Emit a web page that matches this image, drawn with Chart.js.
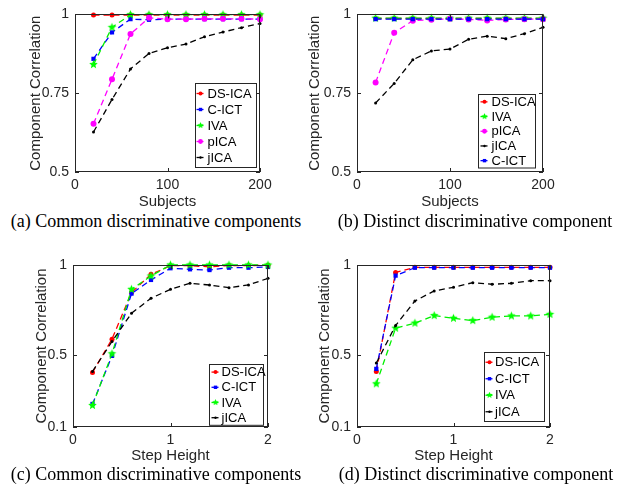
<!DOCTYPE html>
<html>
<head>
<meta charset="utf-8">
<script src="https://cdn.jsdelivr.net/npm/chart.js@4.4.1/dist/chart.umd.min.js"></script>
<style>
  body { margin: 0; background: #fff; width: 624px; height: 491px; position: relative; overflow: hidden; }
  canvas { position: absolute; }
  .cap { position: absolute; font-family: "Liberation Serif", "Times New Roman", serif; font-size: 18px; line-height: 18px;
         white-space: nowrap; transform: translateX(-50%); color: #000; }
</style>
</head>
<body>
<canvas id="chartA" width="312" height="211" style="left:0;top:0"></canvas>
<canvas id="chartB" width="324" height="211" style="left:300px;top:0"></canvas>
<canvas id="chartC" width="312" height="220" style="left:0;top:245px"></canvas>
<canvas id="chartD" width="324" height="220" style="left:300px;top:245px"></canvas>
<div class="cap" style="left:156px;top:212px">(a) Common discriminative components</div>
<div class="cap" style="left:475px;top:212px">(b) Distinct discriminative component</div>
<div class="cap" style="left:156px;top:465px">(c) Common discriminative components</div>
<div class="cap" style="left:476px;top:465px">(d) Distinct discriminative component</div>
<script>
// x values and axis ticks
const subjects = [20, 40, 60, 80, 100, 120, 140, 160, 180, 200];
const stepHeights = [0.2, 0.4, 0.6, 0.8, 1.0, 1.2, 1.4, 1.6, 1.8, 2.0];
const subjectTicks = [0, 100, 200];
const stepTicks = [0, 1, 2];
const corrTicksTop = [0.5, 0.75, 1];
const corrTicksBottom = [0.1, 0.5, 1];

// (a) common components vs subjects
const dsicaA = [0.998, 0.998, 0.998, 0.998, 0.998, 0.998, 0.998, 0.998, 0.998, 0.998];
const cictA  = [0.859, 0.943, 0.985, 0.983, 0.985, 0.985, 0.985, 0.985, 0.985, 0.985];
const ivaA   = [0.841, 0.959, 0.999, 0.999, 0.999, 0.999, 0.999, 0.999, 0.999, 0.999];
const picaA  = [0.653, 0.794, 0.938, 0.989, 0.985, 0.985, 0.986, 0.986, 0.986, 0.985];
const jicaA  = [0.627, 0.730, 0.827, 0.876, 0.894, 0.906, 0.929, 0.944, 0.958, 0.971];

// (b) distinct component vs subjects
const dsicaB = [0.987, 0.987, 0.987, 0.987, 0.987, 0.987, 0.987, 0.987, 0.987, 0.987];
const ivaB   = [0.988, 0.988, 0.988, 0.988, 0.988, 0.988, 0.988, 0.988, 0.988, 0.988];
const picaB  = [0.784, 0.942, 0.980, 0.983, 0.986, 0.984, 0.981, 0.984, 0.985, 0.985];
const jicaB  = [0.719, 0.781, 0.856, 0.884, 0.890, 0.921, 0.931, 0.923, 0.939, 0.959];
const cictB  = [0.985, 0.985, 0.985, 0.985, 0.985, 0.985, 0.985, 0.985, 0.985, 0.985];

// (c) common components vs step height
const dsicaC = [0.403, 0.588, 0.847, 0.948, 0.996, 0.996, 0.990, 0.997, 0.997, 0.998];
const cictC  = [0.228, 0.495, 0.841, 0.917, 0.982, 0.976, 0.972, 0.985, 0.985, 0.989];
const ivaC   = [0.220, 0.507, 0.865, 0.939, 1.000, 1.000, 1.000, 1.000, 1.000, 1.000];
const jicaC  = [0.409, 0.575, 0.732, 0.815, 0.865, 0.898, 0.889, 0.874, 0.889, 0.926];

// (d) distinct component vs step height
const dsicaD = [0.409, 0.959, 0.987, 0.987, 0.987, 0.987, 0.987, 0.987, 0.987, 0.987];
const cictD  = [0.423, 0.941, 0.985, 0.985, 0.985, 0.985, 0.985, 0.985, 0.985, 0.985];
const ivaD   = [0.340, 0.649, 0.677, 0.719, 0.704, 0.691, 0.710, 0.717, 0.717, 0.726];
const jicaD  = [0.455, 0.664, 0.800, 0.856, 0.876, 0.902, 0.893, 0.898, 0.913, 0.913];

const ink = '#262626';
Chart.defaults.font.family = '"Liberation Sans", Arial, Helvetica, sans-serif';

// filled five point star for the IVA markers
function starImage(color, r) {
  const c = document.createElement('canvas');
  const s = Math.ceil(r * 2) + 2;
  c.width = c.height = s;
  const g = c.getContext('2d');
  g.fillStyle = color;
  g.beginPath();
  for (let k = 0; k < 10; k++) {
    const rad = k % 2 ? r * 0.45 : r;
    const ang = -Math.PI / 2 + k * Math.PI / 5;
    g.lineTo(s / 2 + rad * Math.cos(ang), s / 2 + rad * Math.sin(ang));
  }
  g.closePath();
  g.fill();
  return c;
}

const styles = {
  'DS-ICA': { color: '#ff0000', point: 'circle', radius: 2.5 },
  'C-ICT':  { color: '#0000ff', point: 'rect', radius: 3 },
  'IVA':    { color: '#00f000', point: starImage('#00ff00', 4.5), radius: 4 },
  'pICA':   { color: '#ff00ff', point: 'circle', radius: 3 },
  'jICA':   { color: '#000000', point: 'circle', radius: 1.5 }
};

function makeSeries(name, xs, ys, i) {
  const st = styles[name];
  return {
    label: name,
    data: xs.map((x, k) => ({ x: x, y: ys[k] })),
    borderColor: st.color, backgroundColor: st.color,
    pointBackgroundColor: st.color, pointBorderColor: st.color, pointBorderWidth: 0,
    pointStyle: st.point, pointRadius: st.radius,
    borderWidth: 1.3, borderDash: [6, 4], tension: 0, clip: false,
    order: -i // later series on top, like matlab
  };
}

// frame with inward ticks on all sides, plus the legend box inside the plot
const boxPlugin = {
  id: 'matlabBox',
  afterDatasetsDraw(chart, args, opts) {
    const { ctx, chartArea: a, scales: { x, y } } = chart;
    ctx.save();
    ctx.setLineDash([]);
    ctx.strokeStyle = ink;
    ctx.lineWidth = 1;
    ctx.beginPath();
    x.ticks.forEach(t => {
      const px = Math.round(x.getPixelForValue(t.value)) + 0.5;
      ctx.moveTo(px, a.bottom); ctx.lineTo(px, a.bottom - 4);
      ctx.moveTo(px, a.top); ctx.lineTo(px, a.top + 4);
    });
    y.ticks.forEach(t => {
      const py = Math.round(y.getPixelForValue(t.value)) + 0.5;
      ctx.moveTo(a.left, py); ctx.lineTo(a.left + 4, py);
      ctx.moveTo(a.right, py); ctx.lineTo(a.right - 4, py);
    });
    ctx.stroke();
    ctx.strokeRect(Math.round(a.left) + 0.5, Math.round(a.top) + 0.5, Math.round(a.width) - 1, Math.round(a.height) - 1);

    // legend
    const sets = chart.data.datasets;
    const h = sets.length * opts.rowH + opts.pad;
    const bx = Math.round(a.right - opts.right - opts.width) + 0.5;
    const by = Math.round(a.bottom - opts.bottom - h) + 0.5;
    ctx.fillStyle = '#fff';
    ctx.fillRect(bx, by, opts.width, h);
    ctx.strokeStyle = ink;
    ctx.strokeRect(bx, by, opts.width, h);
    ctx.font = '13px "Liberation Sans", Arial, sans-serif';
    ctx.textBaseline = 'middle';
    sets.forEach((ds, i) => {
      const cy = by + opts.pad / 2 + opts.rowH * (i + 0.5);
      const mx = bx + opts.markX;
      ctx.strokeStyle = ds.borderColor;
      ctx.lineWidth = 1.3;
      ctx.beginPath(); ctx.moveTo(mx - 4, cy); ctx.lineTo(mx + 3, cy); ctx.stroke();
      ctx.fillStyle = ds.pointBackgroundColor;
      if (ds.pointStyle instanceof HTMLCanvasElement) {
        const s = ds.pointStyle.width * 0.75;
        ctx.drawImage(ds.pointStyle, mx - s / 2, cy - s / 2, s, s);
      } else {
        Chart.helpers.drawPoint(ctx, { pointStyle: ds.pointStyle, radius: ds.pointRadius * 0.8, rotation: 0, borderWidth: 0 }, mx, cy);
      }
      ctx.fillStyle = '#000';
      ctx.fillText(ds.label, bx + opts.textX, cy + 0.5);
    });
    ctx.restore();
  }
};

function makePanel(id, cfg) {
  const cv = document.getElementById(id);
  const W = cv.width, H = cv.height, A = cfg.area;
  return new Chart(cv, {
    type: 'line',
    data: { datasets: cfg.series.map((s, i) => makeSeries(s[0], cfg.xs, s[1], i)) },
    options: {
      responsive: false, animation: false, events: [],
      layout: { padding: { left: 0, top: A.t, right: W - A.r, bottom: 0 } },
      plugins: { legend: { display: false }, tooltip: { enabled: false }, matlabBox: cfg.legend },
      scales: {
        x: {
          type: 'linear', min: cfg.xTicks[0], max: cfg.xTicks[cfg.xTicks.length - 1],
          afterBuildTicks: s => { s.ticks = cfg.xTicks.map(v => ({ value: v })); },
          afterFit: s => { s.height = H - A.b; },
          grid: { display: false, drawTicks: false }, border: { display: false },
          ticks: { padding: cfg.xTickPad, color: ink, font: { size: 14 }, maxRotation: 0, autoSkip: false, callback: v => String(v) },
          title: { display: true, text: cfg.xTitle, color: ink, font: { size: 15 }, padding: { top: 0, bottom: cfg.xTitlePad } }
        },
        y: {
          type: 'linear', min: cfg.yTicks[0], max: cfg.yTicks[cfg.yTicks.length - 1],
          afterBuildTicks: s => { s.ticks = cfg.yTicks.map(v => ({ value: v })); },
          afterFit: s => { s.width = A.l; },
          grid: { display: false, drawTicks: false }, border: { display: false },
          ticks: { padding: 6, color: ink, font: { size: 14 }, autoSkip: false, callback: v => String(v) },
          title: { display: true, text: 'Component Correlation', color: ink, font: { size: 15 }, padding: { top: cfg.yTitlePad, bottom: 0 } }
        }
      }
    },
    plugins: [boxPlugin]
  });
}

makePanel('chartA', {
  xs: subjects, xTicks: subjectTicks, yTicks: corrTicksTop, xTitle: 'Subjects',
  series: [['DS-ICA', dsicaA], ['C-ICT', cictA], ['IVA', ivaA], ['pICA', picaA], ['jICA', jicaA]],
  area: { l: 75, t: 9, r: 260, b: 172 }, xTickPad: 5, xTitlePad: 0, yTitlePad: 26.5,
  legend: { rowH: 16, pad: 4, width: 61, right: 4, bottom: 5, markX: 5, textX: 12 }
});
makePanel('chartB', {
  xs: subjects, xTicks: subjectTicks, yTicks: corrTicksTop, xTitle: 'Subjects',
  series: [['DS-ICA', dsicaB], ['IVA', ivaB], ['pICA', picaB], ['jICA', jicaB], ['C-ICT', cictB]],
  area: { l: 57, t: 8, r: 243, b: 172 }, xTickPad: 5, xTitlePad: 0, yTitlePad: 5.5,
  legend: { rowH: 14.7, pad: 0, width: 57, right: 8, bottom: 5, markX: 6, textX: 13 }
});
makePanel('chartC', {
  xs: stepHeights, xTicks: stepTicks, yTicks: corrTicksBottom, xTitle: 'Step Height',
  series: [['DS-ICA', dsicaC], ['C-ICT', cictC], ['IVA', ivaC], ['jICA', jicaC]],
  area: { l: 73, t: 20, r: 268, b: 182 }, xTickPad: 5, xTitlePad: 0, yTitlePad: 32.5,
  legend: { rowH: 15.2, pad: 0, width: 54, right: 5, bottom: 2, markX: 6, textX: 12 }
});
makePanel('chartD', {
  xs: stepHeights, xTicks: stepTicks, yTicks: corrTicksBottom, xTitle: 'Step Height',
  series: [['DS-ICA', dsicaD], ['C-ICT', cictD], ['IVA', ivaD], ['jICA', jicaD]],
  area: { l: 57, t: 20, r: 250, b: 182 }, xTickPad: 5, xTitlePad: 0, yTitlePad: 15.5,
  legend: { rowH: 16.5, pad: 3, width: 60, right: 6, bottom: 6.5, markX: 5, textX: 10.5 }
});
</script>
</body>
</html>
